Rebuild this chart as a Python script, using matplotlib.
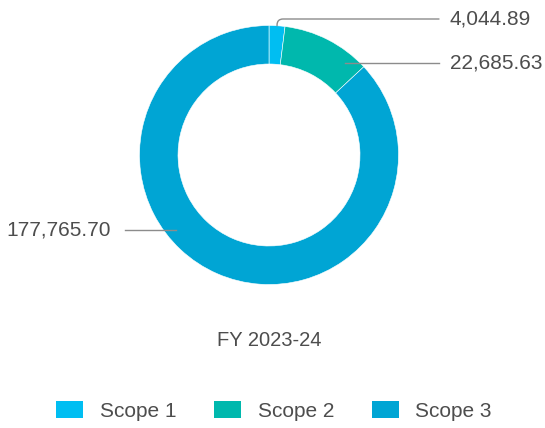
import numpy as np
import matplotlib.pyplot as plt
from matplotlib.patches import Patch

# emissions by scope, FY 2023-24
labels = ['Scope 1', 'Scope 2', 'Scope 3']
values = [4044.89, 22685.63, 177765.70]
colors = ['#00BEF2', '#00B8AD', '#00A5D4']
title = 'FY 2023-24'

plt.rcParams['font.family'] = ['Liberation Sans', 'DejaVu Sans']
text_color = '#4d4d4d'
line_color = '#8c8c8c'

W, H = 545, 428
fig = plt.figure(figsize=(W / 100, H / 100), dpi=100)
ax = fig.add_axes([0, 0, 1, 1])

# donut, pixel coordinates (y up)
cx, cy = 269, H - 155
R = 129.5
ring = 38.5
wedges, _ = ax.pie(values, colors=colors, startangle=90, counterclock=False,
                   radius=R, center=(cx, cy),
                   wedgeprops=dict(width=ring, edgecolor='white', linewidth=0.4))
ax.set_xlim(0, W)
ax.set_ylim(0, H)
ax.set_aspect('equal')
ax.axis('off')

# label layout: (text y from top, side)
label_pos = [(19, 'right'), (63, 'right'), (230, 'left')]
for i, (w, (ty, side)) in enumerate(zip(wedges, label_pos)):
    txt = f'{values[i]:,.2f}'
    y = H - ty
    if i == 0:
        mid = np.deg2rad((w.theta1 + w.theta2) / 2)
        ax_pt = (cx + R * np.cos(mid), cy + R * np.sin(mid))
        ax.annotate('', xy=ax_pt, xytext=(439, y),
                    arrowprops=dict(arrowstyle='-', color=line_color, lw=1,
                                    shrinkA=0, shrinkB=0,
                                    connectionstyle='angle,angleA=0,angleB=90,rad=6'))
        ax.text(450, y, txt, ha='left', va='center', fontsize=15, color=text_color)
    else:
        r_in = R - 10
        dy = y - cy
        dx = np.sqrt(r_in ** 2 - dy ** 2)
        if side == 'right':
            ax.plot([cx + dx, 439], [y, y], color=line_color, lw=1)
            ax.text(450, y, txt, ha='left', va='center', fontsize=15, color=text_color)
        else:
            ax.plot([125, cx - dx], [y, y], color=line_color, lw=1)
            ax.text(111, y, txt, ha='right', va='center', fontsize=15, color=text_color)

ax.text(cx, H - 341, title, ha='center', va='center', fontsize=14.5, color=text_color)

handles = [Patch(facecolor=c, edgecolor='none', label=l) for c, l in zip(colors, labels)]
fig.legend(handles=handles, loc='center', bbox_to_anchor=(0.503, 17 / H), ncol=3,
           frameon=False, fontsize=15, labelcolor=text_color,
           handlelength=1.3, handleheight=0.9, handletextpad=0.8, columnspacing=1.8)

fig.savefig('out.png', dpi=100)
